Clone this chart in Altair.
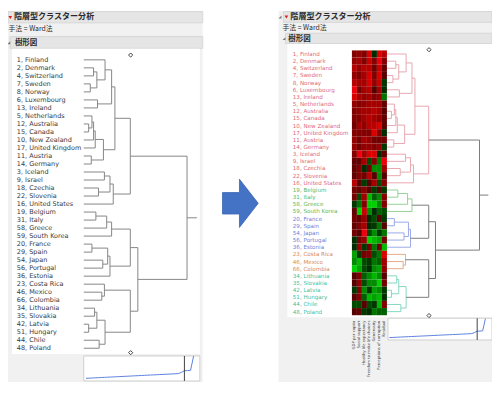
import altair as alt
import pandas as pd

# ---------------- data ----------------
countries = [
    "1, Finland", "2, Denmark", "4, Switzerland", "7, Sweden", "8, Norway",
    "6, Luxembourg", "13, Ireland", "5, Netherlands", "12, Australia", "15, Canada",
    "10, New Zealand", "17, United Kingdom", "11, Austria", "14, Germany", "3, Iceland",
    "9, Israel", "18, Czechia", "22, Slovenia", "16, United States", "19, Belgium",
    "31, Italy", "58, Greece", "59, South Korea", "20, France", "29, Spain",
    "54, Japan", "56, Portugal", "36, Estonia", "23, Costa Rica", "46, Mexico",
    "66, Colombia", "34, Lithuania", "35, Slovakia", "42, Latvia", "51, Hungary",
    "44, Chile", "48, Poland",
]
cluster_of_leaf = [1] * 19 + [2] * 4 + [3] * 5 + [4] * 3 + [5] * 6

# Ward merges: child a, child b (leaf index, or 37+k for merge k), joining height
merge_a = [1, 3, 37, 0, 5, 40, 8, 7, 44, 45, 12, 46, 42, 14, 16, 50, 52, 49,
           19, 55, 56, 23, 25, 58, 60, 57, 29, 28, 31, 33, 65, 35, 67, 64, 62, 54]
merge_b = [2, 4, 38, 39, 6, 41, 9, 43, 10, 11, 13, 47, 48, 15, 17, 51, 18, 53,
           20, 21, 22, 24, 26, 59, 27, 61, 30, 63, 32, 34, 66, 36, 68, 69, 70, 71]
merge_h = [30, 20, 40, 65, 42, 85, 15, 25, 30, 35, 23, 60, 95, 63, 45, 80, 90, 142,
           37, 70, 85, 25, 58, 73, 80, 142, 55, 63, 33, 15, 40, 47, 65, 142, 165, 315]
root_stub = 345
cut_height = 143

heat_cols = ["GDP per capita", "Social support", "Healthy life expectancy",
             "Freedom to make life choices", "Generosity",
             "Perceptions of corruption", "Residual"]
heat_vals = [
    [0.3, 0.4, 0.3, 0.8, -0.1, 0.8, 0.6],
    [0.4, 0.5, 0.3, 0.7, 0.3, 0.9, 0.3],
    [0.6, 0.4, 0.6, 0.6, 0.2, 0.7, 0.1],
    [0.4, 0.3, 0.5, 0.8, 0.3, 0.8, 0.0],
    [0.6, 0.5, 0.5, 0.8, 0.4, 0.7, -0.2],
    [0.9, 0.2, 0.5, 0.6, 0.0, 0.5, -0.1],
    [0.8, 0.5, 0.4, 0.5, 0.3, 0.4, -0.5],
    [0.4, 0.3, 0.4, 0.5, 0.5, 0.5, 0.1],
    [0.3, 0.4, 0.5, 0.5, 0.6, 0.5, 0.0],
    [0.3, 0.3, 0.5, 0.6, 0.5, 0.4, 0.1],
    [0.2, 0.5, 0.4, 0.6, 0.6, 0.8, 0.0],
    [0.3, 0.3, 0.3, 0.3, 0.8, 0.3, -0.1],
    [0.4, 0.2, 0.5, 0.4, 0.2, 0.2, 0.2],
    [0.4, 0.2, 0.4, 0.4, 0.3, 0.4, -0.2],
    [0.3, 0.9, 0.5, 0.8, 0.8, -0.1, 0.1],
    [0.1, 0.1, 0.5, -0.3, 0.3, -0.5, 0.9],
    [0.1, 0.3, -0.1, 0.2, -0.6, -0.6, 0.5],
    [0.1, 0.3, 0.2, 0.6, 0.0, -0.6, 0.0],
    [0.6, 0.0, -0.2, 0.0, 0.5, -0.3, 0.3],
    [0.2, 0.1, 0.3, 0.0, -0.2, 0.0, -0.2],
    [0.2, -0.3, 0.5, -0.8, -0.4, -0.6, 0.3],
    [-0.2, -0.5, 0.3, -0.9, -0.9, -0.6, 0.3],
    [0.1, -0.9, 0.7, -0.6, -0.1, -0.4, -0.3],
    [0.2, 0.1, 0.4, -0.1, -0.3, 0.0, -0.2],
    [0.1, 0.3, 0.5, -0.1, -0.2, -0.5, 0.0],
    [0.2, 0.0, 0.9, -0.3, -0.6, -0.2, -0.5],
    [-0.1, 0.2, 0.4, -0.9, -0.8, -0.7, 0.2],
    [-0.1, 0.4, -0.2, 0.2, -0.5, 0.2, -0.8],
    [-0.7, -0.2, 0.2, 0.3, -0.3, -0.5, 0.8],
    [-0.6, -0.8, -0.3, -0.2, -0.5, -0.4, 0.5],
    [-0.9, -0.7, -0.3, -0.1, -0.6, -0.7, 0.4],
    [0.0, 0.3, -0.4, -0.6, -0.8, -0.6, 0.0],
    [0.0, 0.4, -0.3, -0.6, -0.6, -0.9, 0.2],
    [-0.2, 0.3, -0.6, -0.2, -0.7, -0.6, -0.2],
    [0.0, 0.3, -0.4, -0.8, -0.7, -0.8, -0.1],
    [-0.3, -0.3, 0.0, -0.3, -0.2, -0.8, 0.3],
    [0.0, 0.1, -0.2, -0.1, -0.5, -0.4, -0.4],
]

join_dist = [9.0, 9.6, 10.3, 11.0, 11.6, 12.2, 12.9, 13.5, 14.1, 14.8, 15.4, 16.0,
             16.7, 17.3, 17.9, 18.6, 19.2, 19.8, 20.5, 21.1, 21.7, 22.4, 23.0, 23.6,
             24.3, 24.9, 25.5, 26.2, 26.8, 27.5, 28.3, 33.0, 40.0, 40.5, 41.5, 100.0]
cut_step = 33

title_jp = "階層型クラスター分析"
method_jp = "手法 = Ward法"
dendro_jp = "樹形図"

# ---------------- styling / layout ----------------
W, H = 492, 377
SY = H / 393.0


def px(x):
    return x - 8


def py(y):
    return y * SY


JP = "Noto Sans CJK JP"
LAT = "DejaVu Sans"
GRAY_LINE = "#858585"
text_colors = {1: "#e06a78", 2: "#5db85a", 3: "#6b7fd9", 4: "#d98a58", 5: "#3fbf9f"}
line_colors = {0: "#7a7a7a", 1: "#e8a6ae", 2: "#95cf94", 3: "#9aa8e8", 4: "#e6aa88", 5: "#84d6c2"}

# ---------------- derived tables ----------------
n = len(countries)
pos = {i: float(i) for i in range(n)}
hgt = {i: 0.0 for i in range(n)}
members = {i: {i} for i in range(n)}
segs = []
for k, (a, b, h) in enumerate(zip(merge_a, merge_b, merge_h)):
    node = n + k
    pos[node] = (pos[a] + pos[b]) / 2
    hgt[node] = h
    members[node] = members[a] | members[b]
    cl = {cluster_of_leaf[i] for i in members[node]}
    c = cl.pop() if len(cl) == 1 else 0
    segs.append(dict(h1=hgt[a], h2=h, i1=pos[a], i2=pos[a], c=str(c)))
    segs.append(dict(h1=hgt[b], h2=h, i1=pos[b], i2=pos[b], c=str(c)))
    segs.append(dict(h1=h, h2=h, i1=pos[a], i2=pos[b], c=str(c)))
root = n + len(merge_h) - 1
segs.append(dict(h1=hgt[root], h2=root_stub, i1=pos[root], i2=pos[root], c="0"))
seg_df = pd.DataFrame(segs)

lab_df = pd.DataFrame({
    "idx": list(range(n)),
    "label": countries,
    "tcol": [text_colors[c] for c in cluster_of_leaf],
})
heat_df = pd.DataFrame([
    {"country": countries[r], "variable": heat_cols[j], "v": heat_vals[r][j]}
    for r in range(n) for j in range(len(heat_cols))
])
col_df = pd.DataFrame({"variable": heat_cols})
dist_df = pd.DataFrame({"step": list(range(1, len(join_dist) + 1)), "d": join_dist})
cut_df = pd.DataFrame({"step": [cut_step]})
diam_df = pd.DataFrame({"h": [cut_height, cut_height], "i": [-0.6, 36.55]})

# frame (panels, header bars)
frame_rects = pd.DataFrame([
    dict(x1=0, x2=206, y1=0, y2=393, fill="#f1f1f1", stroke="transparent"),
    dict(x1=206, x2=283, y1=0, y2=393, fill="#ffffff", stroke="transparent"),
    dict(x1=283, x2=500, y1=0, y2=393, fill="#f1f1f1", stroke="transparent"),
    dict(x1=8, x2=206, y1=0.5, y2=12.5, fill="#e5e5e5", stroke="#d2d2d2"),
    dict(x1=10, x2=206, y1=27, y2=39.5, fill="#e5e5e5", stroke="#d2d2d2"),
    dict(x1=12, x2=203, y1=40, y2=363.5, fill="#ffffff", stroke="transparent"),
    dict(x1=85, x2=203, y1=365.5, y2=392, fill="#ffffff", stroke="#c4c4c4"),
    dict(x1=288, x2=500, y1=0.5, y2=12, fill="#e5e5e5", stroke="#d2d2d2"),
    dict(x1=290, x2=500, y1=23.5, y2=34.5, fill="#e5e5e5", stroke="#d2d2d2"),
    dict(x1=292, x2=500, y1=35, y2=324.5, fill="#ffffff", stroke="transparent"),
    dict(x1=394.3, x2=500, y1=325.5, y2=348.5, fill="#ffffff", stroke="#c4c4c4"),
])
frame_texts = pd.DataFrame([
    dict(x=14, y=6.8, t=title_jp, s=8.2, w="bold"),
    dict(x=8.5, y=18.8, t=method_jp, s=7.0, w="normal"),
    dict(x=15, y=33.5, t=dendro_jp, s=7.6, w="bold"),
    dict(x=295, y=6.3, t=title_jp, s=8.2, w="bold"),
    dict(x=287, y=17.5, t=method_jp, s=7.0, w="normal"),
    dict(x=293, y=29.2, t=dendro_jp, s=7.6, w="bold"),
])
red_tri = pd.DataFrame([dict(x=10.3, y=6.8), dict(x=291, y=6.3)])
gray_tri = pd.DataFrame([dict(x=8.8, y=33.5), dict(x=284.5, y=6.3), dict(x=288.5, y=29.2)])
arrow = pd.DataFrame([dict(x=244.2, y=203.7)])

FX = alt.Scale(domain=[0, 500], range=[px(0), px(500)])
FY = alt.Scale(domain=[0, 393], range=[py(0), py(393)])


def fx(f):
    return alt.X(f, type="quantitative", scale=FX, axis=None)


def fy(f):
    return alt.Y(f, type="quantitative", scale=FY, axis=None)


layers = []
layers.append(alt.Chart(frame_rects).mark_rect(strokeWidth=0.8).encode(
    x=fx("x1"), x2="x2", y=fy("y1"), y2="y2",
    color=alt.Color("fill:N", scale=None), stroke=alt.Stroke("stroke:N", scale=None)))
for w in ["bold", "normal"]:
    layers.append(alt.Chart(frame_texts[frame_texts.w == w]).mark_text(
        align="left", baseline="middle", font=JP, fontWeight=w, color="#2a2a2a").encode(
        x=fx("x"), y=fy("y"), text="t:N", size=alt.Size("s:Q", scale=None)))
layers.append(alt.Chart(red_tri).mark_point(shape="triangle-down", filled=True, size=14,
                                            color="#d62020", opacity=1).encode(x=fx("x"), y=fy("y")))
layers.append(alt.Chart(gray_tri).mark_point(shape="M1,-1L1,1L-1,1Z", filled=True, size=9,
                                             color="#7a7a7a", opacity=1).encode(x=fx("x"), y=fy("y")))

# ---- left panel: dendrogram only ----
L_H = alt.Scale(domain=[0, 315], range=[px(85), px(190)])
L_I = alt.Scale(domain=[0, n - 1], range=[py(51.7), py(357.3)])
layers.append(alt.Chart(seg_df).mark_rule(color=GRAY_LINE, strokeWidth=1).encode(
    x=alt.X("h1:Q", scale=L_H, axis=None), x2="h2:Q",
    y=alt.Y("i1:Q", scale=L_I, axis=None), y2="i2:Q"))
layers.append(alt.Chart(lab_df).mark_text(align="left", baseline="middle", font=LAT,
                                          fontSize=6.6, color="#3a3a3a").encode(
    x=alt.value(px(17)), y=alt.Y("idx:Q", scale=L_I, axis=None), text="label:N"))
layers.append(alt.Chart(diam_df).mark_point(shape="diamond", filled=False, size=18,
                                            color="#404040", strokeWidth=1, opacity=1).encode(
    x=alt.X("h:Q", scale=L_H, axis=None), y=alt.Y("i:Q", scale=L_I, axis=None)))
LS_X = alt.Scale(domain=[1, 36], range=[px(87.3), px(196.7)])
LS_Y = alt.Scale(domain=[0, 100], range=[py(391.5), py(365.5)])
layers.append(alt.Chart(dist_df).mark_line(color="#5a7fdc", strokeWidth=1).encode(
    x=alt.X("step:Q", scale=LS_X, axis=None), y=alt.Y("d:Q", scale=LS_Y, axis=None)))
layers.append(alt.Chart(cut_df).mark_rule(color="#404040", strokeWidth=1).encode(
    x=alt.X("step:Q", scale=LS_X, axis=None), y=alt.value(py(365.5)), y2=alt.value(py(392))))

# ---- right panel: heatmap + coloured dendrogram ----
R_H = alt.Scale(domain=[0, 315], range=[px(393.3), px(487.3)])
R_I = alt.Scale(domain=[0, n - 1], range=[py(45.5), py(318.5)])
layers.append(alt.Chart(seg_df).mark_rule(strokeWidth=1).encode(
    x=alt.X("h1:Q", scale=R_H, axis=None), x2="h2:Q",
    y=alt.Y("i1:Q", scale=R_I, axis=None), y2="i2:Q",
    color=alt.Color("c:N", scale=alt.Scale(domain=[str(k) for k in line_colors],
                                           range=list(line_colors.values())), legend=None)))
layers.append(alt.Chart(lab_df).mark_text(align="left", baseline="middle", font=LAT,
                                          fontSize=5.7).encode(
    x=alt.value(px(297.5)), y=alt.Y("idx:Q", scale=R_I, axis=None), text="label:N",
    color=alt.Color("tcol:N", scale=None)))
HX = alt.Scale(domain=heat_cols, range=[px(357.6), px(393.2)], paddingInner=0, paddingOuter=0)
HY = alt.Scale(domain=countries, range=[py(41.7), py(322.3)], paddingInner=0, paddingOuter=0)
layers.append(alt.Chart(heat_df).mark_rect(strokeWidth=0).encode(
    x=alt.X("variable:N", scale=HX, axis=None),
    y=alt.Y("country:N", scale=HY, axis=None),
    color=alt.Color("v:Q", scale=alt.Scale(domain=[-1, 0, 1],
                                           range=["#1ee61e", "#000000", "#ff1a1a"]),
                    legend=None)))
layers.append(alt.Chart(col_df).mark_text(angle=270, align="right", baseline="middle",
                                          font="Noto Sans", fontSize=4.2, color="#3a3a3a").encode(
    x=alt.X("variable:N", scale=HX, axis=None), y=alt.value(py(328)), text="variable:N"))
layers.append(alt.Chart(diam_df).mark_point(shape="diamond", filled=False, size=18,
                                            color="#404040", strokeWidth=1, opacity=1).encode(
    x=alt.X("h:Q", scale=R_H, axis=None), y=alt.Y("i:Q", scale=R_I, axis=None)))
RS_X = alt.Scale(domain=[1, 36], range=[px(395.7), px(493.3)])
RS_Y = alt.Scale(domain=[0, 100], range=[py(348), py(326)])
layers.append(alt.Chart(dist_df).mark_line(color="#5a7fdc", strokeWidth=1).encode(
    x=alt.X("step:Q", scale=RS_X, axis=None), y=alt.Y("d:Q", scale=RS_Y, axis=None)))
layers.append(alt.Chart(cut_df).mark_rule(color="#404040", strokeWidth=1).encode(
    x=alt.X("step:Q", scale=RS_X, axis=None), y=alt.value(py(325.5)), y2=alt.value(py(348.5))))

# ---- arrow ----
layers.append(alt.Chart(arrow).mark_point(
    shape="M-1,-0.6L-0.05,-0.6L-0.05,-1.35L1,0L-0.05,1.35L-0.05,0.6L-1,0.6Z",
    filled=True, size=1318, fill="#4472c4", stroke="#3a64b0", strokeWidth=0.8, opacity=1).encode(
    x=fx("x"), y=fy("y")))

chart = alt.layer(*layers).resolve_scale(
    x="independent", y="independent", color="independent", stroke="independent", size="independent"
).properties(
    width=W, height=H, padding=0, autosize=alt.AutoSizeParams(type="none"), background="white"
).configure_view(strokeWidth=0)

chart.save("out.html", embed_options={"renderer": "svg", "actions": False})
